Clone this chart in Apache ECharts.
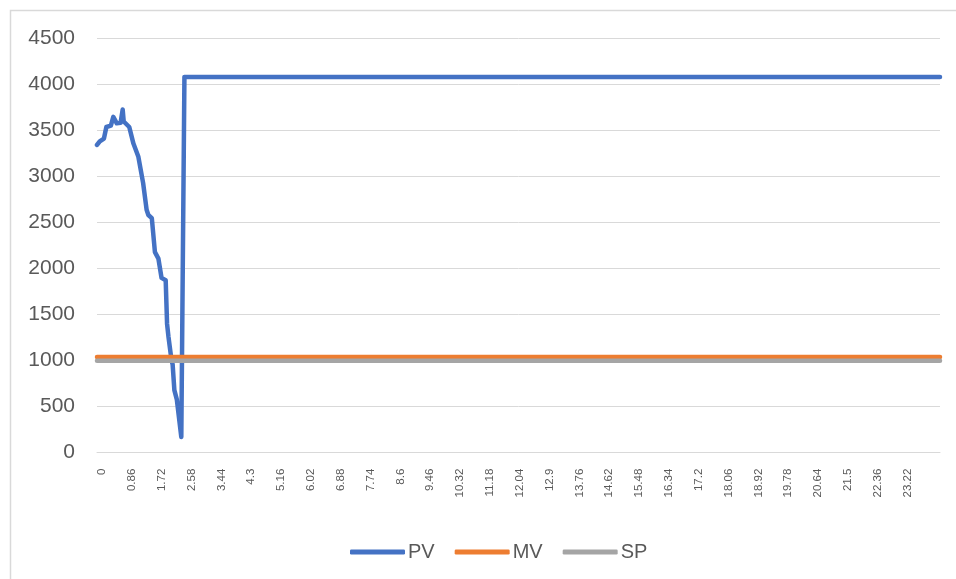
<!DOCTYPE html>
<html>
<head>
<meta charset="utf-8">
<title>PV / MV / SP</title>
<script src="https://cdn.jsdelivr.net/npm/echarts@6/dist/echarts.min.js"></script>
<style>
  html, body { margin: 0; padding: 0; background: #ffffff; }
  #chart { width: 956px; height: 579px; }
</style>
</head>
<body>
<div id="chart"></div>
<script>
// Process variable (PV) samples: time and value
const pvTime  = [0, 0.08, 0.20, 0.24, 0.27, 0.40, 0.47, 0.51, 0.57, 0.68, 0.74, 0.77, 0.82, 0.93, 1.05, 1.19, 1.33, 1.43, 1.48, 1.58, 1.67, 1.77, 1.86, 1.98, 2.02, 2.06, 2.15, 2.18, 2.23, 2.30, 2.43, 2.52, 24.3];
const pvValue = [3345, 3385, 3415, 3420, 3540, 3555, 3650, 3640, 3580, 3585, 3730, 3600, 3585, 3540, 3360, 3220, 2930, 2640, 2584, 2550, 2180, 2110, 1900, 1875, 1400, 1260, 1000, 960, 680, 580, 170, 4085, 4085];

// Manipulated variable (MV) and set point (SP): constant over the run
const mvTime  = [0, 24.3];
const mvValue = [1040, 1040];
const spTime  = [0, 24.3];
const spValue = [1000, 1000];

// Axis ranges and tick steps; time labels stop at the last sampled label
const timeMin = 0, timeMax = 24.3, timeStep = 0.86, lastTimeLabel = 23.22;
const valueMin = 0, valueMax = 4500, valueStep = 500;

const seriesNames = ['PV', 'MV', 'SP'];
const seriesColors = ['#4472C4', '#ED7D31', '#A5A5A5'];

const pairs = (xs, ys) => xs.map((x, i) => [x, ys[i]]);
const seriesData = [pairs(pvTime, pvValue), pairs(mvTime, mvValue), pairs(spTime, spValue)];

const chart = echarts.init(document.getElementById('chart'));
const textColor = '#595959';
const gridColor = '#d9d9d9';

chart.setOption({
  animation: false,
  backgroundColor: '#ffffff',
  graphic: [
    // chart frame (top and left edges)
    { type: 'polyline', silent: true,
      shape: { points: [[10.5, 600], [10.5, 10.5], [960, 10.5]] },
      style: { stroke: gridColor, lineWidth: 1.5, fill: null } }
  ],
  grid: { left: 97, right: 16, top: 38.7, bottom: 126.3, containLabel: false },
  legend: {
    left: 345, top: 537,
    itemWidth: 55, itemHeight: 5, itemGap: 20,
    icon: 'roundRect',
    data: seriesNames,
    textStyle: { color: textColor, fontSize: 20, fontFamily: 'Liberation Sans', padding: [0, 0, 0, -2] }
  },
  xAxis: {
    type: 'value',
    min: timeMin, max: timeMax, interval: timeStep,
    axisLine: { show: true, lineStyle: { color: gridColor, width: 1 } },
    axisTick: { show: false },
    splitLine: { show: false },
    axisLabel: {
      rotate: 90, margin: 16,
      verticalAlign: 'top', lineHeight: 10,
      color: textColor, fontSize: 11.5, fontFamily: 'Liberation Sans',
      showMaxLabel: false,
      formatter: v => (v > lastTimeLabel + 0.01 ? '' : String(+v.toFixed(2)))
    }
  },
  yAxis: {
    type: 'value',
    min: valueMin, max: valueMax, interval: valueStep,
    axisLine: { show: false },
    axisTick: { show: false },
    splitLine: { lineStyle: { color: gridColor, width: 1 } },
    axisLabel: { color: textColor, fontSize: 21, fontFamily: 'Liberation Sans', margin: 22,
                 formatter: v => String(v) }
  },
  series: seriesNames.map((name, i) => ({
    name, type: 'line',
    data: seriesData[i],
    showSymbol: false, symbol: 'none',
    itemStyle: { color: seriesColors[i] },
    lineStyle: { color: seriesColors[i], width: 4.5, cap: 'round', join: 'round' }
  }))
});
</script>
</body>
</html>
